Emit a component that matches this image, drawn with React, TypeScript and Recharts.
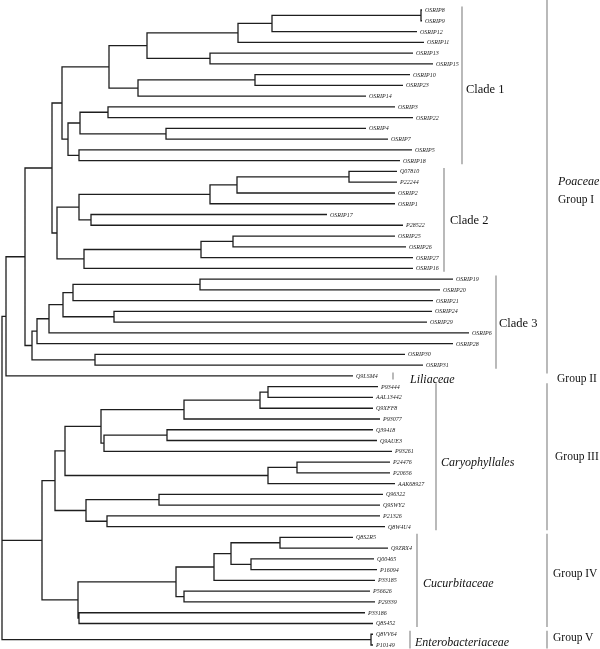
import { ComposedChart, Line, Scatter, XAxis, YAxis } from "recharts";

// tips, top to bottom
const leafNames = [
  "OSRIP8", "OSRIP9", "OSRIP12", "OSRIP11", "OSRIP13", "OSRIP15", "OSRIP10", "OSRIP23", "OSRIP14", "OSRIP3",
  "OSRIP22", "OSRIP4", "OSRIP7", "OSRIP5", "OSRIP18", "Q07810", "P22244", "OSRIP2", "OSRIP1", "OSRIP17",
  "P28522", "OSRIP25", "OSRIP26", "OSRIP27", "OSRIP16", "OSRIP19", "OSRIP20", "OSRIP21", "OSRIP24", "OSRIP29",
  "OSRIP6", "OSRIP28", "OSRIP30", "OSRIP31", "Q9LSM4", "P93444", "AAL13442", "Q9XFF8", "P93077", "Q39418",
  "Q9AUE3", "P93261", "P24476", "P20656", "AAK68927", "Q96322", "Q9SWY2", "P21326", "Q8W4U4", "Q8S2R5",
  "Q9ZRX4", "Q00465", "P16094", "P33185", "P56626", "P29339", "P33186", "Q8S452", "Q8VV64", "P10149",
];

// distance from the root to each tip
const leafDist = [
  0.422, 0.422, 0.417, 0.424, 0.413, 0.433, 0.41, 0.403, 0.366, 0.395,
  0.413, 0.366, 0.388, 0.412, 0.4, 0.397, 0.397, 0.395, 0.395, 0.327,
  0.403, 0.395, 0.406, 0.413, 0.413, 0.453, 0.44, 0.433, 0.432, 0.427,
  0.469, 0.453, 0.405, 0.423, 0.353, 0.378, 0.373, 0.373, 0.38, 0.373,
  0.377, 0.392, 0.39, 0.39, 0.395, 0.383, 0.38, 0.38, 0.385, 0.353,
  0.388, 0.374, 0.377, 0.375, 0.37, 0.375, 0.365, 0.373, 0.373, 0.373,
];

// internal nodes: id, distance from root, children
const nodes: [string, number, string[]][] = [
  ["a1", 0.421, ["OSRIP8", "OSRIP9"]],
  ["a2", 0.272, ["a1", "OSRIP12"]],
  ["a3", 0.238, ["a2", "OSRIP11"]],
  ["a4", 0.21, ["OSRIP13", "OSRIP15"]],
  ["a5", 0.147, ["a3", "a4"]],
  ["a6", 0.255, ["OSRIP10", "OSRIP23"]],
  ["a7", 0.138, ["a6", "OSRIP14"]],
  ["a8", 0.109, ["a5", "a7"]],
  ["a9", 0.108, ["OSRIP3", "OSRIP22"]],
  ["a10", 0.166, ["OSRIP4", "OSRIP7"]],
  ["a11", 0.08, ["a9", "a10"]],
  ["a12", 0.079, ["OSRIP5", "OSRIP18"]],
  ["a13", 0.068, ["a11", "a12"]],
  ["a14", 0.062, ["a8", "a13"]],
  ["b1", 0.349, ["Q07810", "P22244"]],
  ["b2", 0.237, ["b1", "OSRIP2"]],
  ["b3", 0.21, ["b2", "OSRIP1"]],
  ["b4", 0.091, ["OSRIP17", "P28522"]],
  ["b5", 0.079, ["b3", "b4"]],
  ["b6", 0.233, ["OSRIP25", "OSRIP26"]],
  ["b7", 0.201, ["b6", "OSRIP27"]],
  ["b8", 0.084, ["b7", "OSRIP16"]],
  ["b9", 0.057, ["b5", "b8"]],
  ["b10", 0.052, ["a14", "b9"]],
  ["c1", 0.2, ["OSRIP19", "OSRIP20"]],
  ["c2", 0.073, ["c1", "OSRIP21"]],
  ["c3", 0.114, ["OSRIP24", "OSRIP29"]],
  ["c4", 0.063, ["c2", "c3"]],
  ["c5", 0.049, ["c4", "OSRIP6"]],
  ["c6", 0.037, ["c5", "OSRIP28"]],
  ["c7", 0.095, ["OSRIP30", "OSRIP31"]],
  ["c8", 0.032, ["c6", "c7"]],
  ["c9", 0.025, ["b10", "c8"]],
  ["c10", 0.006, ["c9", "Q9LSM4"]],
  ["d1", 0.268, ["P93444", "AAL13442"]],
  ["d2", 0.26, ["d1", "Q9XFF8"]],
  ["d3", 0.184, ["d2", "P93077"]],
  ["d4", 0.167, ["Q39418", "Q9AUE3"]],
  ["d5", 0.104, ["d4", "P93261"]],
  ["d6", 0.101, ["d3", "d5"]],
  ["d7", 0.297, ["P24476", "P20656"]],
  ["d8", 0.268, ["d7", "AAK68927"]],
  ["d9", 0.065, ["d6", "d8"]],
  ["d10", 0.159, ["Q96322", "Q9SWY2"]],
  ["d11", 0.107, ["P21326", "Q8W4U4"]],
  ["d12", 0.086, ["d10", "d11"]],
  ["d13", 0.055, ["d9", "d12"]],
  ["e1", 0.28, ["Q8S2R5", "Q9ZRX4"]],
  ["e2", 0.251, ["Q00465", "P16094"]],
  ["e3", 0.231, ["e1", "e2"]],
  ["e4", 0.214, ["e3", "P33185"]],
  ["e5", 0.184, ["P56626", "P29339"]],
  ["e6", 0.176, ["e4", "e5"]],
  ["e7", 0.079, ["P33186", "Q8S452"]],
  ["e8", 0.078, ["e6", "e7"]],
  ["e9", 0.042, ["d13", "e8"]],
  ["f1", 0.371, ["Q8VV64", "P10149"]],
  ["root", 0.002, ["c10", "e9", "f1"]],
];

// side annotations: names and the rows they cover
const cladeNames = ["Clade 1", "Clade 2", "Clade 3"];
const cladeRows = [[0, 14], [15, 24], [25, 33]];
const familyNames = ["Liliaceae", "Caryophyllales", "Cucurbitaceae", "Enterobacteriaceae"];
const familyRows = [[34, 34], [35, 48], [49, 57], [58, 59]];
const groupNames = ["Group I", "Group II", "Group III", "Group IV", "Group V"];
const groupRows = [[-0.93, 33.45], [34, 34], [35, 48], [49, 57], [58, 59]];

// layout of the annotation column
const cladeBarX = [0.462, 0.444, 0.496];
const cladeTextX = [0.466, 0.45, 0.499];
const cladeTextDy = [0.3, 0, 0.1];
const familyBarX = [0.393, 0.436, 0.417, 0.41];
const familyTextX = [0.41, 0.441, 0.423, 0.415];
const familyTextDy = [0.25, 0.45, 0.2, 0.2];
const groupBarX = 0.547;
const groupTextX = [0.558, 0.557, 0.555, 0.553, 0.553];
const groupTextDy = [0, 0.2, -0.1, -0.7, -0.2];
const PAD = 0.33;

const W = 600;
const H = 649;
const yDomain: [number, number] = [-0.93, 59.37];

const nodeMap = new Map(nodes.map((n) => [n[0], n]));
const depthOf = (id: string): number => {
  const i = leafNames.indexOf(id);
  return i >= 0 ? leafDist[i] : nodeMap.get(id)![1];
};
const rowOf = (id: string): number => {
  const i = leafNames.indexOf(id);
  if (i >= 0) return i;
  const kids = nodeMap.get(id)![2];
  return (rowOf(kids[0]) + rowOf(kids[kids.length - 1])) / 2;
};

type Pt = { x: number; y: number | null };

const branches: Pt[] = [];
nodes.forEach(([id, d, kids]) => {
  const py = rowOf(id);
  kids.forEach((k) => {
    const ky = rowOf(k);
    branches.push({ x: d, y: py }, { x: d, y: ky }, { x: depthOf(k), y: ky }, { x: depthOf(k), y: null });
  });
});

const bars: Pt[] = [];
const addBar = (x: number, r: number[]) => {
  bars.push({ x, y: r[0] - PAD }, { x, y: r[1] + PAD }, { x, y: null });
};
cladeRows.forEach((r, i) => addBar(cladeBarX[i], r));
familyRows.forEach((r, i) => addBar(familyBarX[i], r));
groupRows.forEach((r, i) => {
  if (i !== 1) addBar(groupBarX, r);
});

const tipLabels = leafNames.map((name, i) => ({ x: leafDist[i] + 0.003, y: i, label: name }));

const cladeLabels = cladeNames.map((name, i) => ({
  x: cladeTextX[i],
  y: (cladeRows[i][0] + cladeRows[i][1]) / 2 + cladeTextDy[i],
  label: name,
}));

const groupLabels = groupNames.map((name, i) => ({
  x: groupTextX[i],
  y: i === 0 ? 17.55 : (groupRows[i][0] + groupRows[i][1]) / 2 + groupTextDy[i],
  label: name,
}));

const italicLabels = [
  ...familyNames.map((name, i) => ({
    x: familyTextX[i],
    y: (familyRows[i][0] + familyRows[i][1]) / 2 + familyTextDy[i],
    label: name,
  })),
  { x: groupTextX[0], y: 15.85, label: "Poaceae" },
];

const textShape =
  (size: number, italic: boolean, fill: string) =>
  // eslint-disable-next-line @typescript-eslint/no-explicit-any
  (props: any) => (
    <text
      x={props.cx}
      y={props.cy}
      dominantBaseline="central"
      fontFamily="'Liberation Serif', 'Times New Roman', serif"
      fontSize={size}
      fontStyle={italic ? "italic" : "normal"}
      fill={fill}
    >
      {props.payload.label}
    </text>
  );

export default function App() {
  return (
    <div style={{ width: W, height: H, willChange: "transform" }}>
      <style>{"body{margin:0;background:#fff}"}</style>
      <ComposedChart width={W} height={H} margin={{ top: 0, right: 0, bottom: 0, left: 0 }}>
        <XAxis type="number" dataKey="x" domain={[0, 0.6]} hide allowDataOverflow />
        <YAxis type="number" dataKey="y" domain={yDomain} reversed hide allowDataOverflow />
        <Line
          data={bars}
          dataKey="y"
          stroke="#a9a9a9"
          strokeWidth={1.6}
          dot={false}
          activeDot={false}
          isAnimationActive={false}
        />
        <Line
          data={branches}
          dataKey="y"
          stroke="#1e1e1e"
          strokeWidth={1.3}
          dot={false}
          activeDot={false}
          isAnimationActive={false}
        />
        <Scatter data={tipLabels} shape={textShape(6, true, "#222")} isAnimationActive={false} />
        <Scatter data={cladeLabels} shape={textShape(12.5, false, "#111")} isAnimationActive={false} />
        <Scatter data={groupLabels} shape={textShape(11.5, false, "#111")} isAnimationActive={false} />
        <Scatter data={italicLabels} shape={textShape(12, true, "#111")} isAnimationActive={false} />
      </ComposedChart>
    </div>
  );
}
